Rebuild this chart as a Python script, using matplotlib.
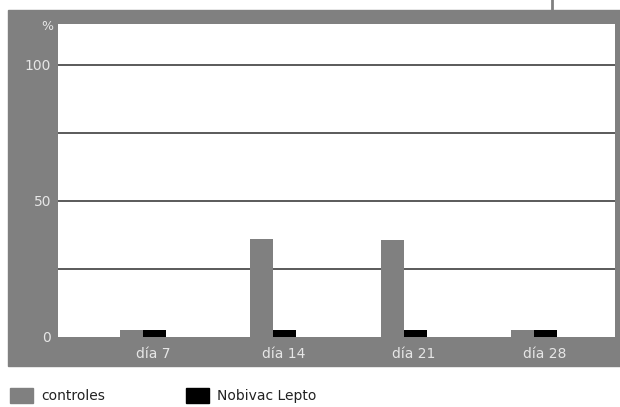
import numpy as np
import matplotlib.pyplot as plt
from matplotlib.patches import Rectangle

dias = ['día 7', 'día 14', 'día 21', 'día 28']
controles = [2.5, 36, 35.5, 2.5]
nobivac = [2.5, 2.5, 2.5, 2.5]
yticks = [0, 50, 100]
grid_y = [25, 50, 75, 100]

gris = '#808080'
W, H = 620, 407

fig = plt.figure(figsize=(W / 100, H / 100), dpi=100)
fig.patch.set_facecolor('white')

# marco gris de fondo
fig.patches.append(Rectangle((8 / W, 41 / H), 612 / W, 356 / H,
                             transform=fig.transFigure, color=gris, zorder=-1))
fig.add_artist(plt.Line2D([552 / W, 552 / W], [397 / H, 1], color=gris,
                          lw=2, transform=fig.transFigure))

ax = fig.add_axes([58 / W, 70 / H, 557 / W, 313 / H])
ax.set_facecolor('white')

x = np.arange(len(dias))
w = 0.177
ax.bar(x, controles, width=-w, align='edge', color=gris, zorder=3)
ax.bar(x, nobivac, width=w, align='edge', color='black', zorder=3)

for g in grid_y:
    ax.axhline(g, color='#5a5a5a', lw=1.4, zorder=1)

ax.set_xlim(-0.654, 3.623)
ax.set_ylim(0, 114.9)
ax.set_yticks(yticks)
ax.set_yticklabels([str(t) for t in yticks])
ax.set_xticks(x + 0.08)
ax.set_xticklabels(dias)
ax.tick_params(length=0, colors='#e6e6e6', labelsize=10)
ax.tick_params(axis='y', pad=5)
ax.tick_params(axis='x', pad=7)
for s in ax.spines.values():
    s.set_visible(False)

fig.text(53 / W, 1 - 27 / H, '%', ha='right', va='center', color='#e6e6e6', fontsize=9)

# leyenda
for px, col, lab in [(10, gris, 'controles'), (186, 'black', 'Nobivac Lepto')]:
    fig.patches.append(Rectangle((px / W, 1 - 403 / H), 23 / W, 15 / H,
                                 transform=fig.transFigure, color=col))
    fig.text((px + 31) / W, 1 - 396 / H, lab, ha='left', va='center',
             color='#222222', fontsize=10)

fig.savefig('out.png', dpi=100)
